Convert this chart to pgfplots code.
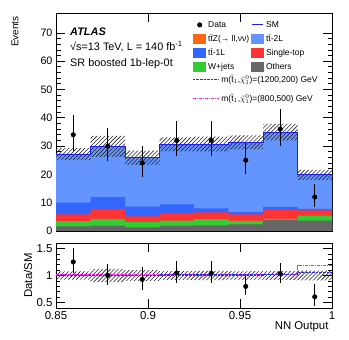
\documentclass[border=0pt]{standalone}
\usepackage{fontspec}
\setmainfont{Liberation Sans}
\usepackage{pgfplots}
\pgfplotsset{compat=1.18}
\usepackage{pgfplotstable}
\usetikzlibrary{patterns.meta}

\definecolor{cttz}{HTML}{FF6611}
\definecolor{ctwoL}{HTML}{6495FF}
\definecolor{coneL}{HTML}{3366FF}
\definecolor{cstop}{HTML}{FF3333}
\definecolor{cwjets}{HTML}{33CC33}
\definecolor{cothers}{HTML}{666666}
\definecolor{smblue}{HTML}{1E1EF0}
\definecolor{sigmag}{HTML}{F020F0}
\definecolor{sigblue}{RGB}{40,40,255}

% cumulative stack tops per bin (left edges, last row repeats the last bin)
\pgfplotstableread{
x      others wjets stop oneL tot
0.85     1.6  3.5  5.9 10.0 27.2
0.86875  1.9  4.3  7.8 12.0 29.9
0.8875   1.3  3.2  5.2  8.6 25.9
0.90625  1.9  3.7  6.4  9.4 30.6
0.925    2.0  4.2  6.6  8.0 30.7
0.94375  2.3  3.6  5.9  6.7 31.3
0.9625   3.9  4.3  7.6  8.4 34.9
0.98125  3.7  5.4  7.3  7.8 19.8
1.0      3.7  5.4  7.3  7.8 19.8
}\bkg

% data (bin centres) and data/SM
\pgfplotstableread{
x        y  ep   em   r     rep   rem
0.859375 34 6.88 5.80 1.250 0.253 0.213
0.878125 30 6.53 5.44 1.003 0.218 0.182
0.896875 24 5.96 4.86 0.927 0.230 0.188
0.915625 32 6.71 5.62 1.046 0.219 0.184
0.934375 32 6.71 5.62 1.042 0.219 0.183
0.953125 25 6.06 4.96 0.799 0.194 0.158
0.971875 36 7.05 5.97 1.032 0.202 0.171
0.990625 12 4.55 3.41 0.606 0.230 0.172
}\data

% signal ratios
\pgfplotstableread{
x       sa    sb
0.85    1.005 1.015
0.86875 1.005 1.015
0.8875  1.005 1.015
0.90625 1.008 1.018
0.925   1.008 1.018
0.94375 1.010 1.020
0.9625  1.012 1.022
0.98125 1.060 1.180
1.0     1.060 1.180
}\sig

\tikzset{
  hatch/.style={pattern={Lines[angle=45, distance=2.8bp, line width=0.6bp]}, pattern color=black!85, draw=none},
}
\pgfplotsset{
  atlas/.style={
    scale only axis, width=276bp,
    xmin=0.85, xmax=1,
    xtick={0.85,0.9,0.95,1},
    tick align=inside, xtick pos=both, ytick pos=both,
    major tick length=9bp, minor tick length=4.5bp,
    axis line style={line width=0.8pt},
    every tick/.style={black, line width=0.6pt},
  },
  boxleg/.style={legend image code/.code={\fill[draw=none] (0bp,-5bp) rectangle (13bp,5bp);}},
}

\begin{document}
\begin{tikzpicture}
\path[use as bounding box] (-56bp,-32bp) rectangle (293bp,308bp);

\begin{axis}[atlas,
  at={(0bp,77bp)}, anchor=south west, height=218bp,
  ymin=0, ymax=77,
  xticklabels={},
  ytick={0,10,...,70}, yticklabels={0,10,20,30,40,50,60,70},
  minor y tick num=4,
  yticklabel style={font=\fontsize{10.8}{12}\selectfont},
  ylabel={Events},
  ylabel style={at={(axis description cs:-0.149,1)}, anchor=east, font=\fontsize{10}{12}\selectfont},
  legend columns=2,
  legend cell align=left,
  legend style={draw=none, fill=none, inner sep=0pt,
    at={(axis description cs:0.4964,0.9725)}, anchor=north west,
    font=\fontsize{8.5}{10}\selectfont,
    row sep=2.3bp},
]
\addlegendimage{legend image code/.code={\fill[black] (6.5bp,0bp) circle (2.3bp);}}
\addlegendentry{Data}
\addlegendimage{legend image code/.code={\draw[smblue, line width=0.8pt] (1bp,0bp) -- (12bp,0bp);}}
\addlegendentry{SM}
\addlegendimage{boxleg, fill=cttz}
\addlegendentry{t$\bar{\mathrm{t}}$Z(→ ll,νν)\hspace{4bp}}
\addlegendimage{boxleg, fill=ctwoL}
\addlegendentry{t$\bar{\mathrm{t}}$-2L}
\addlegendimage{boxleg, fill=coneL}
\addlegendentry{t$\bar{\mathrm{t}}$-1L}
\addlegendimage{boxleg, fill=cstop}
\addlegendentry{Single-top}
\addlegendimage{boxleg, fill=cwjets}
\addlegendentry{W+jets}
\addlegendimage{boxleg, fill=cothers}
\addlegendentry{Others}

% stacked backgrounds, painted from the total down
\addplot[const plot, fill=ctwoL, draw=none, forget plot] table[x=x, y=tot]{\bkg} \closedcycle;
\addplot[const plot, fill=coneL, draw=none, forget plot] table[x=x, y=oneL]{\bkg} \closedcycle;
\addplot[const plot, fill=cstop, draw=none, forget plot] table[x=x, y=stop]{\bkg} \closedcycle;
\addplot[const plot, fill=cwjets, draw=none, forget plot] table[x=x, y=wjets]{\bkg} \closedcycle;
\addplot[const plot, fill=cothers, draw=none, forget plot] table[x=x, y=others]{\bkg} \closedcycle;

% SM uncertainty band (outline of the up and down steps)
\addplot[hatch, forget plot] coordinates {
(0.85,29.3)(0.86875,29.3)(0.86875,33.6)(0.8875,33.6)(0.8875,28.4)(0.90625,28.4)
(0.90625,33.1)(0.925,33.1)(0.925,33.3)(0.94375,33.3)(0.94375,33.8)(0.9625,33.8)
(0.9625,37.8)(0.98125,37.8)(0.98125,21.6)(1,21.6)
(1,18.0)(0.98125,18.0)(0.98125,32.0)(0.9625,32.0)(0.9625,28.8)(0.94375,28.8)
(0.94375,28.1)(0.925,28.1)(0.90625,28.1)(0.90625,23.4)(0.8875,23.4)(0.8875,26.2)
(0.86875,26.2)(0.86875,25.1)(0.85,25.1)} -- cycle;

% SM total
\addplot[const plot, smblue, line width=0.9pt, forget plot] table[x=x, y=tot]{\bkg};

% data
\addplot[only marks, mark=*, mark size=2.3bp, black, forget plot,
  error bars/.cd, y dir=both, y explicit,
  error bar style={line width=1pt, black}, error mark=none]
  table[x=x, y=y, y error plus=ep, y error minus=em]{\data};

\node[anchor=west, inner sep=0pt, font=\fontsize{11}{13}\selectfont\bfseries\itshape] at (rel axis cs:0.0507,0.913) {ATLAS};
\node[anchor=west, inner sep=0pt, font=\fontsize{10.9}{13}\selectfont] at (rel axis cs:0.0507,0.844) {√s=13 TeV, L = 140 fb\textsuperscript{-1}};
\node[anchor=west, inner sep=0pt, font=\fontsize{10.9}{13}\selectfont] at (rel axis cs:0.0507,0.766) {SR boosted 1b-lep-0t};
\end{axis}

\begin{axis}[atlas,
  at={(0bp,0bp)}, anchor=south west, height=65bp,
  ymin=0.4, ymax=1.6,
  xticklabels={0.85,0.9,0.95,1},
  ytick={0.5,1,1.5}, yticklabels={0.5,1,1.5},
  minor y tick num=4,
  tick label style={font=\fontsize{11.5}{13}\selectfont},
  xlabel={NN Output},
  xlabel style={at={(axis description cs:1,-0.292)}, anchor=east, font=\fontsize{11.4}{13}\selectfont},
  ylabel={Data/SM},
  ylabel style={at={(axis description cs:-0.101,0.5)}, anchor=center, font=\fontsize{11.4}{13}\selectfont},
  legend cell align=left,
  legend style={draw=none, fill=none, inner sep=0pt,
    at={(axis description cs:0.4928,3.62)}, anchor=north west,
    font=\fontsize{8.5}{10}\selectfont,
    row sep=6bp},
]
\addlegendimage{legend image code/.code={\draw[draw=sigblue, line width=1.2pt, dash pattern=on 2.6bp off 1bp] (0bp,0bp) -- (26bp,0bp);}}
\addlegendentry{m($\tilde{\mathrm{t}}_1$,$\tilde{\chi}^0_1$)=(1200,200) GeV}
\addlegendimage{legend image code/.code={\draw[draw=sigmag, line width=1pt, dash pattern=on 3bp off 1bp on 1bp off 1bp] (0bp,0bp) -- (26bp,0bp);}}
\addlegendentry{m($\tilde{\mathrm{t}}_1$,$\tilde{\chi}^0_1$)=(800,500) GeV}

\addplot[hatch, forget plot] coordinates {
(0.85,1.077)(0.86875,1.077)(0.86875,1.124)(0.8875,1.124)(0.8875,1.097)(0.90625,1.097)
(0.90625,1.082)(0.925,1.082)(0.925,1.085)(0.94375,1.085)(0.94375,1.080)(0.9625,1.080)
(0.9625,1.083)(0.98125,1.083)(0.98125,1.091)(1,1.091)
(1,0.909)(0.98125,0.909)(0.98125,0.917)(0.9625,0.917)(0.9625,0.920)(0.94375,0.920)
(0.94375,0.915)(0.925,0.915)(0.925,0.918)(0.90625,0.918)(0.90625,0.903)(0.8875,0.903)
(0.8875,0.876)(0.86875,0.876)(0.86875,0.923)(0.85,0.923)} -- cycle;

\addplot[const plot, draw=sigmag, line width=1.1pt, dash pattern=on 3bp off 1bp on 1bp off 1bp, forget plot] table[x=x, y=sb]{\sig};
\addplot[const plot, draw=sigblue, line width=1.2pt, dash pattern=on 2.6bp off 1bp, forget plot] table[x=x, y=sa]{\sig};

\addplot[only marks, mark=*, mark size=2.3bp, black, forget plot,
  error bars/.cd, y dir=both, y explicit,
  error bar style={line width=1pt, black}, error mark=none]
  table[x=x, y=r, y error plus=rep, y error minus=rem]{\data};
\end{axis}
\end{tikzpicture}
\end{document}
